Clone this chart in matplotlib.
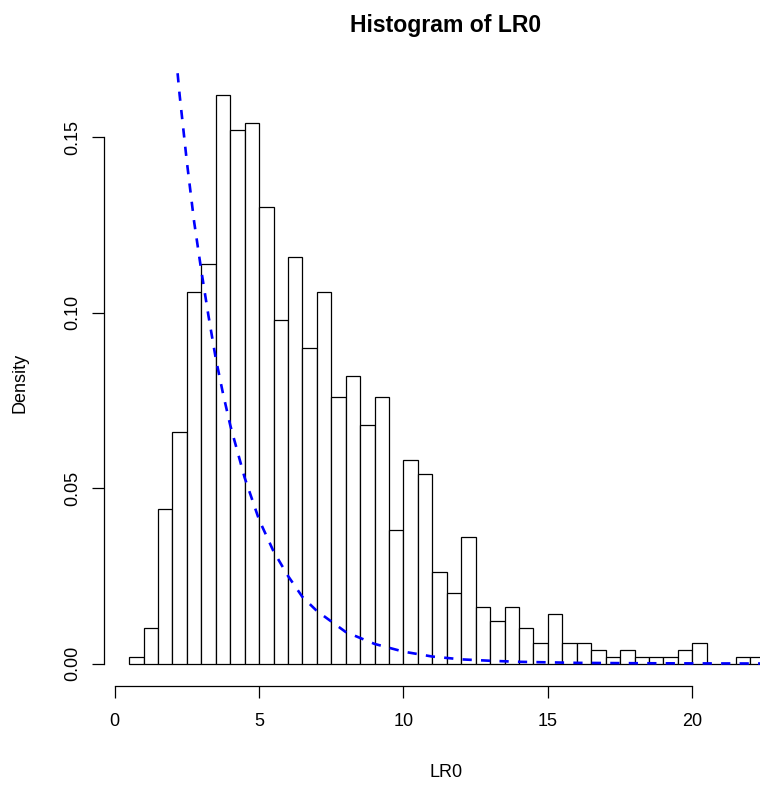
import matplotlib
matplotlib.use("Agg")
import matplotlib.pyplot as plt

plt.rcParams['font.family'] = ['Liberation Sans', 'DejaVu Sans']

# histogram of LR0: bin left edges (width 0.5) and densities
bin_left = [0.5 + 0.5 * i for i in range(44)]
density = [0.002, 0.010, 0.044, 0.066, 0.106, 0.114, 0.162, 0.152, 0.154, 0.130,
           0.098, 0.116, 0.090, 0.106, 0.076, 0.082, 0.068, 0.076, 0.038, 0.058,
           0.054, 0.026, 0.020, 0.036, 0.016, 0.012, 0.016, 0.010, 0.006, 0.014,
           0.006, 0.006, 0.004, 0.002, 0.004, 0.002, 0.002, 0.002, 0.004, 0.006,
           0.000, 0.000, 0.002, 0.002]

# reference density curve (dashed blue)
curve_x = [2.0, 2.25, 2.5, 2.75, 3.0, 3.25, 3.5, 3.75, 4.0, 4.5, 5.0, 5.5, 6.0,
           6.5, 7.0, 7.5, 8.0, 9.0, 10.0, 11.0, 12.0, 13.0, 14.0, 16.0, 18.0,
           20.0, 22.0, 24.0]
curve_y = [0.184, 0.162, 0.143, 0.126, 0.112, 0.099, 0.087, 0.077, 0.068, 0.053,
           0.041, 0.032, 0.025, 0.019, 0.015, 0.012, 0.009, 0.0056, 0.0034, 0.002,
           0.0012, 0.0008, 0.0005, 0.0002, 0.0001, 0.00005, 0.00002, 0.00001]

W, H = 760, 785
fig = plt.figure(figsize=(W / 100, H / 100), dpi=100)
# plot region in pixels (right edge runs past the figure, as in the reference)
left_px, right_px, top_px, bottom_px = 103.7, 789.9, 72.5, 686.3
ax = fig.add_axes([left_px / W, (H - bottom_px) / H,
                   (right_px - left_px) / W, (bottom_px - top_px) / H])

ax.bar(bin_left, density, width=0.5, align='edge', color='white',
       edgecolor='black', linewidth=0.9)
ax.plot(curve_x, curve_y, color='blue', linewidth=1.9, linestyle=(0, (3.5, 3.5)))

ax.set_xlim(-0.38, 23.38)
ax.set_ylim(-0.00648, 0.16848)

for s in ['top', 'right']:
    ax.spines[s].set_visible(False)
ax.spines['left'].set_bounds(0, 0.15)
ax.spines['bottom'].set_bounds(0, 20)
ax.spines['left'].set_linewidth(0.9)
ax.spines['bottom'].set_linewidth(0.9)

ax.set_xticks([0, 5, 10, 15, 20])
ax.set_xticklabels(['0', '5', '10', '15', '20'])
ax.set_yticks([0.00, 0.05, 0.10, 0.15])
ax.set_yticklabels(['0.00', '0.05', '0.10', '0.15'], rotation=90, va='center')
ax.tick_params(axis='both', direction='out', length=8.5, width=0.9, labelsize=13)
ax.tick_params(axis='x', pad=11)
ax.tick_params(axis='y', pad=8)

fig.text(446 / W, 1 - 31.7 / H, 'Histogram of LR0', ha='center', va='baseline',
         fontsize=16.6, fontweight='bold')
fig.text(446 / W, 1 - 777.3 / H, 'LR0', ha='center', va='baseline', fontsize=13)
fig.text(20 / W, 1 - 383 / H, 'Density', ha='center', va='center', fontsize=13,
         rotation=90)

fig.savefig('out.png', dpi=100)
